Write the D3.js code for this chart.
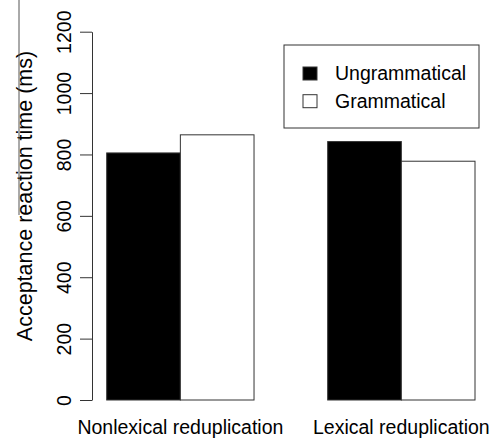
<!DOCTYPE html>
<html>
<head>
<meta charset="utf-8">
<script src="https://cdn.jsdelivr.net/npm/d3@7"></script>
<style>
  html, body { margin: 0; padding: 0; background: #fff; }
  svg { display: block; }
  text { font-family: "Liberation Sans", Arial, sans-serif; fill: #000; }
</style>
</head>
<body>
<svg id="chart" width="492" height="443"></svg>
<script>
const categories = ["Nonlexical reduplication", "Lexical reduplication"];
const seriesNames = ["Ungrammatical", "Grammatical"];
const seriesFill = ["#000000", "#ffffff"];
const ungrammatical = [805, 842];
const grammatical = [864, 778];
const yTicks = [0, 200, 400, 600, 800, 1000, 1200];
const yTitle = "Acceptance reaction time (ms)";

const values = [ungrammatical, grammatical];
const svg = d3.select("#chart");
const fontSize = 19.5;

// R barplot-style units: bar width 1, groups separated by 1
const x = d3.scaleLinear().domain([1, 6]).range([106.7, 475]);
const y = d3.scaleLinear().domain([0, 1200]).range([400, 31.7]);

const bars = [];
categories.forEach((c, gi) => {
  seriesNames.forEach((s, si) => {
    bars.push({ cat: c, series: si, value: values[si][gi], left: 1 + gi * 3 + si });
  });
});

svg.append("g").selectAll("rect").data(bars).join("rect")
  .attr("x", d => x(d.left))
  .attr("y", d => y(d.value))
  .attr("width", d => x(d.left + 1) - x(d.left))
  .attr("height", d => y(0) - y(d.value))
  .attr("fill", d => seriesFill[d.series])
  .attr("stroke", "#333")
  .attr("stroke-width", 1);

// category labels
svg.append("g").selectAll("text").data(categories).join("text")
  .attr("x", (d, i) => x(2 + i * 3))
  .attr("y", 434)
  .attr("text-anchor", "middle")
  .attr("font-size", fontSize)
  .text(d => d);

// y axis
const axis = d3.axisLeft(y).tickValues(yTicks).tickFormat(d3.format("d"))
  .tickSize(12).tickSizeOuter(0).tickPadding(0);
const gAxis = svg.append("g").attr("transform", "translate(92,0)").call(axis);
gAxis.select(".domain").attr("stroke", "#333");
gAxis.selectAll(".tick line").attr("stroke", "#333");
gAxis.selectAll(".tick text")
  .attr("x", 0).attr("y", 0).attr("dy", 0)
  .attr("transform", "translate(-21,0) rotate(-90)")
  .attr("text-anchor", "middle")
  .attr("font-size", fontSize)
  .attr("font-family", "Liberation Sans, Arial, sans-serif")
  .attr("fill", "#000");

// y title
svg.append("text")
  .attr("transform", "translate(32,196) rotate(-90)")
  .attr("text-anchor", "middle")
  .attr("font-size", 21.5)
  .text(yTitle);

// stray overline artifact in reference
svg.append("line")
  .attr("x1", 19).attr("x2", 19).attr("y1", 0).attr("y2", 215)
  .attr("stroke", "#555").attr("stroke-width", 1);

// legend
const lg = svg.append("g");
lg.append("rect")
  .attr("x", 284).attr("y", 45).attr("width", 195).attr("height", 83)
  .attr("fill", "#fff").attr("stroke", "#333").attr("stroke-width", 1);
const items = lg.selectAll("g.item").data(seriesNames).join("g").attr("class", "item")
  .attr("transform", (d, i) => `translate(0,${i * 27.7})`);
items.append("rect")
  .attr("x", 303).attr("y", 67).attr("width", 14).attr("height", 13)
  .attr("fill", (d, i) => seriesFill[i]).attr("stroke", "#333").attr("stroke-width", 1);
items.append("text")
  .attr("x", 335).attr("y", 80)
  .attr("font-size", fontSize)
  .text(d => d);
</script>
</body>
</html>
